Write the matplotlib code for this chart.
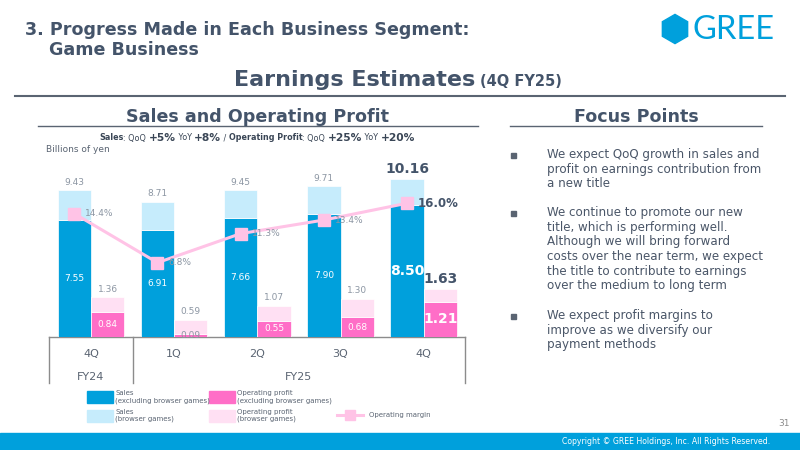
import matplotlib
matplotlib.use("Agg")
import matplotlib.pyplot as plt
from matplotlib.patches import Rectangle, RegularPolygon
from matplotlib.lines import Line2D
import numpy as np

# --- data ---
quarters = ['4Q', '1Q', '2Q', '3Q', '4Q']
sales_ex_browser = [7.55, 6.91, 7.66, 7.90, 8.50]
sales_total = [9.43, 8.71, 9.45, 9.71, 10.16]
profit_ex_browser = [0.84, 0.09, 0.55, 0.68, 1.21]
profit_total = [1.36, 0.59, 1.07, 1.30, 1.63]
op_margin = [14.4, 6.8, 11.3, 13.4, 16.0]

focus_points = [
    "We expect QoQ growth in sales and\nprofit on earnings contribution from\na new title",
    "We continue to promote our new\ntitle, which is performing well.\nAlthough we will bring forward\ncosts over the near term, we expect\nthe title to contribute to earnings\nover the medium to long term",
    "We expect profit margins to\nimprove as we diversify our\npayment methods",
]

DARK_BLUE = '#00A0DC'
LIGHT_BLUE = '#C6ECFC'
PINK = '#FF6EC7'
LIGHT_PINK = '#FFE0F3'
LINE_PINK = '#FFC3E6'
SLATE = '#44546A'
GRAY = '#8C96A3'
W, H = 800, 450

fig = plt.figure(figsize=(8, 4.5), dpi=100)

# background axes in pixel coordinates
bg = fig.add_axes([0, 0, 1, 1])
bg.set_xlim(0, W)
bg.set_ylim(H, 0)
bg.axis('off')

# header
bg.text(25, 30, "3. Progress Made in Each Business Segment:", fontsize=12.6, fontweight='bold',
        color=SLATE, va='center', ha='left')
bg.text(49, 50, "Game Business", fontsize=12.6, fontweight='bold', color=SLATE, va='center', ha='left')
bg.add_patch(RegularPolygon((675, 29), numVertices=6, radius=14.6, orientation=0, color=DARK_BLUE))
bg.text(692, 30, "GREE", fontsize=23.5, family='Lato', color=DARK_BLUE, va='center', ha='left')

bg.text(475, 80, "Earnings Estimates", fontsize=16, fontweight='bold', color=SLATE, va='center', ha='right')
bg.text(480, 82, "(4Q FY25)", fontsize=10.5, fontweight='bold', color=SLATE, va='center', ha='left')
bg.plot([15, 785], [96, 96], color='#5A6472', lw=1.5)

bg.text(258, 117, "Sales and Operating Profit", fontsize=12.6, fontweight='bold', color=SLATE, va='center', ha='center')
bg.plot([38, 478], [126, 126], color='#5A6472', lw=1)
bg.text(636, 117, "Focus Points", fontsize=12.6, fontweight='bold', color=SLATE, va='center', ha='center')
bg.plot([510, 762], [126, 126], color='#5A6472', lw=1)

# mixed-style subtitle
pieces = [("Sales", 'bold', 5.8), (": QoQ ", 'normal', 5.8), ("+5%", 'bold', 7.7),
          (" YoY ", 'normal', 5.8), ("+8%", 'bold', 7.7), (" / ", 'normal', 5.8),
          ("Operating Profit", 'bold', 5.8), (": QoQ ", 'normal', 5.8), ("+25%", 'bold', 7.7),
          (" YoY ", 'normal', 5.8), ("+20%", 'bold', 7.7)]
texts = [bg.text(0, 138, s, fontsize=fs, fontweight=fw, color='#3A4656', va='center', ha='left')
         for s, fw, fs in pieces]
renderer = fig.canvas.get_renderer()
widths = [t.get_window_extent(renderer).width for t in texts]
x = 257 - sum(widths) / 2
for t, wd in zip(texts, widths):
    t.set_x(x)
    x += wd

bg.text(46, 150, "Billions of yen", fontsize=6.5, color='#5A6472', va='center', ha='left')

# focus points
ys = [155, 213, 316]
for y0, txt in zip(ys, focus_points):
    bg.add_patch(Rectangle((511, y0 - 2.5), 5, 5, color='#5A6472'))
    bg.text(547, y0 - 7, txt, fontsize=8.6, color='#4A5668', va='top', ha='left', linespacing=1.17)

# footer
bg.add_patch(Rectangle((0, 433), W, 17, color=DARK_BLUE))
bg.text(770, 441.5, "Copyright \u00a9 GREE Holdings, Inc. All Rights Reserved.", fontsize=5.6,
        color='white', va='center', ha='right')
bg.text(790, 424, "31", fontsize=6.5, color='#8C8C8C', va='center', ha='right')

# --- chart axes ---
ax_l, ax_r, ax_b, ax_t = 49.3, 465.3, 337, 150
rect = [ax_l / W, 1 - ax_b / H, (ax_r - ax_l) / W, (ax_b - ax_t) / H]
ax = fig.add_axes(rect)
ax.patch.set_alpha(0)
ax2 = ax.twinx()
ax3 = ax.twinx()
for a in (ax, ax2, ax3):
    a.set_xlim(-0.5, 4.5)
    a.axis('off')
ax.set_ylim(0, (ax_b - ax_t) / 15.55)
ax2.set_ylim(0, (ax_b - ax_t) / 29.3)
m_scale = 6.46
m_zero = 306.6
ax3.set_ylim(-(ax_b - m_zero) / m_scale, (m_zero - ax_t) / m_scale)

xi = np.arange(len(quarters))
bw = 0.4
sales_browser = [t - e for t, e in zip(sales_total, sales_ex_browser)]
profit_browser = [t - e for t, e in zip(profit_total, profit_ex_browser)]

ax.bar(xi - bw / 2, sales_ex_browser, bw, color=DARK_BLUE, edgecolor='white', linewidth=0.5)
ax.bar(xi - bw / 2, sales_browser, bw, bottom=sales_ex_browser, color=LIGHT_BLUE, edgecolor='white', linewidth=0.5)
ax2.bar(xi + bw / 2, profit_ex_browser, bw, color=PINK, edgecolor='white', linewidth=0.5)
ax2.bar(xi + bw / 2, profit_browser, bw, bottom=profit_ex_browser, color=LIGHT_PINK, edgecolor='white', linewidth=0.5)

ax3.plot(xi - bw / 2, op_margin, color=LINE_PINK, lw=2.2, marker='s', markersize=8,
         markerfacecolor=LINE_PINK, markeredgecolor=LINE_PINK, zorder=5)

last = len(quarters) - 1
for i in xi:
    big = i == last
    fs = 10 if big else 6.5
    fw = 'bold' if big else 'normal'
    # sales labels
    ax.annotate(f"{sales_total[i]:.2f}", (i - bw / 2, sales_total[i]), xytext=(0, 10 if big else 8),
                textcoords='offset pixels', ha='center', va='center',
                fontsize=fs, fontweight=fw, color=SLATE if big else GRAY)
    ax.text(i - bw / 2, sales_ex_browser[i] / 2, f"{sales_ex_browser[i]:.2f}", ha='center', va='center',
            fontsize=fs, fontweight=fw, color='white')
    # profit labels
    ax2.annotate(f"{profit_total[i]:.2f}", (i + bw / 2, profit_total[i]), xytext=(0, 10 if big else 8),
                 textcoords='offset pixels', ha='center', va='center',
                 fontsize=fs, fontweight=fw, color=SLATE if big else GRAY)
    small = profit_ex_browser[i] < 0.2
    ax2.text(i + bw / 2, profit_ex_browser[i] / 2, f"{profit_ex_browser[i]:.2f}", ha='center', va='center',
             fontsize=fs, fontweight=fw, color=GRAY if small else 'white', zorder=6)
    # margin labels
    ax3.annotate(f"{op_margin[i]:.1f}%", (i - bw / 2, op_margin[i]), xytext=(11, 0),
                 textcoords='offset pixels', ha='left', va='center',
                 fontsize=8.5 if big else 6.5, fontweight=fw,
                 color=SLATE if big else GRAY, zorder=6)

# category table below the bars
tcol = '#8C8C8C'
bg.plot([ax_l, ax_r], [ax_b, ax_b], color=tcol, lw=1)
cell = (ax_r - ax_l) / len(quarters)
for xv in (ax_l, ax_l + cell, ax_r):
    bg.plot([xv, xv], [ax_b, 383], color=tcol, lw=1)
for i, q in enumerate(quarters):
    bg.text(ax_l + cell * (i + 0.5), 354, q, fontsize=8, color='#5A6472', ha='center', va='center')
bg.text(ax_l + cell * 0.5, 377, "FY24", fontsize=8, color='#5A6472', ha='center', va='center')
bg.text((ax_l + cell + ax_r) / 2, 377, "FY25", fontsize=8, color='#5A6472', ha='center', va='center')

# legend
leg_items = [
    (87, 391, DARK_BLUE, "Sales\n(excluding browser games)"),
    (209, 391, PINK, "Operating profit\n(excluding browser games)"),
    (87, 409.5, LIGHT_BLUE, "Sales\n(browser games)"),
    (209, 409.5, LIGHT_PINK, "Operating profit\n(browser games)"),
]
for lx, ly, c, lab in leg_items:
    bg.add_patch(Rectangle((lx, ly), 26, 12, color=c))
    bg.text(lx + 28, ly + 6, lab, fontsize=5, color='#5A6472', ha='left', va='center', linespacing=1.2)
bg.add_line(Line2D([337, 363], [414.5, 414.5], color=LINE_PINK, lw=2.2))
bg.add_line(Line2D([350], [414.5], color=LINE_PINK, marker='s', markersize=7))
bg.text(369, 414.5, "Operating margin", fontsize=5, color='#5A6472', ha='left', va='center')

fig.savefig("out.png", dpi=100)
